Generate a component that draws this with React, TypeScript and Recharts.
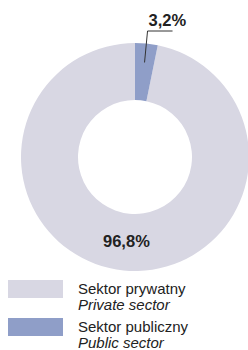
import { PieChart, Pie, Cell } from "recharts";

const sectors = ["Sektor prywatny", "Sektor publiczny"];
const sectorsEn = ["Private sector", "Public sector"];
const shares = [96.8, 3.2];
const shareLabels = ["96,8%", "3,2%"];
const colors = ["#d8d7e3", "#8f9ec8"];

const data = sectors.map((name, i) => ({ name, value: shares[i] }));

const FONT = "'Liberation Sans Narrow', 'Arial Narrow', 'Liberation Sans', sans-serif";
const RAD = Math.PI / 180;

function renderLabel(props: any) {
  const { cx, cy, midAngle, innerRadius, outerRadius, index } = props;
  if (index === 0) {
    const r = (innerRadius + outerRadius) / 2;
    const x = cx + r * Math.cos(-midAngle * RAD);
    const y = cy + r * Math.sin(-midAngle * RAD);
    return (
      <text x={x} y={y + 5} textAnchor="middle" fontFamily={FONT} fontWeight="bold" fontSize={16.5} fill="#222">
        {shareLabels[index]}
      </text>
    );
  }
  // leader line for the thin slice
  const r = outerRadius - 19;
  const x0 = cx + r * Math.cos(-midAngle * RAD);
  const y0 = cy + r * Math.sin(-midAngle * RAD);
  const x1 = x0 + 3;
  const y1 = cy - outerRadius - 12;
  return (
    <g>
      <polyline points={`${x0},${y0} ${x1},${y1} ${x1 + 25},${y1}`} fill="none" stroke="#333" strokeWidth={1} />
      <text x={x1 + 1} y={y1 - 5} fontFamily={FONT} fontWeight="bold" fontSize={16.5} fill="#222">
        {shareLabels[index]}
      </text>
    </g>
  );
}

export default function App() {
  return (
    <div style={{ position: "absolute", left: 0, top: 0, width: 248, height: 350, background: "#fff" }}>
      <PieChart width={248} height={275} margin={{ top: 0, right: 0, bottom: 0, left: 0 }}>
        <Pie
          data={data}
          dataKey="value"
          cx={135}
          cy={157}
          innerRadius={57}
          outerRadius={114}
          startAngle={90}
          endAngle={450}
          stroke="none"
          label={renderLabel}
          labelLine={false}
          isAnimationActive={false}
        >
          {data.map((d, i) => (
            <Cell key={d.name} fill={colors[i]} />
          ))}
        </Pie>
      </PieChart>
      {sectors.map((name, i) => (
        <div key={name} style={{ position: "absolute", left: 0, top: 280 + i * 38, width: 248 }}>
          <div style={{ position: "absolute", left: 8, top: 0, width: 55, height: 18, background: colors[i] }} />
          <div style={{ position: "absolute", left: 78, top: 1, fontFamily: FONT, fontSize: 15, lineHeight: "15.5px", color: "#222" }}>
            <div>{name}</div>
            <div style={{ fontStyle: "italic" }}>{sectorsEn[i]}</div>
          </div>
        </div>
      ))}
    </div>
  );
}
